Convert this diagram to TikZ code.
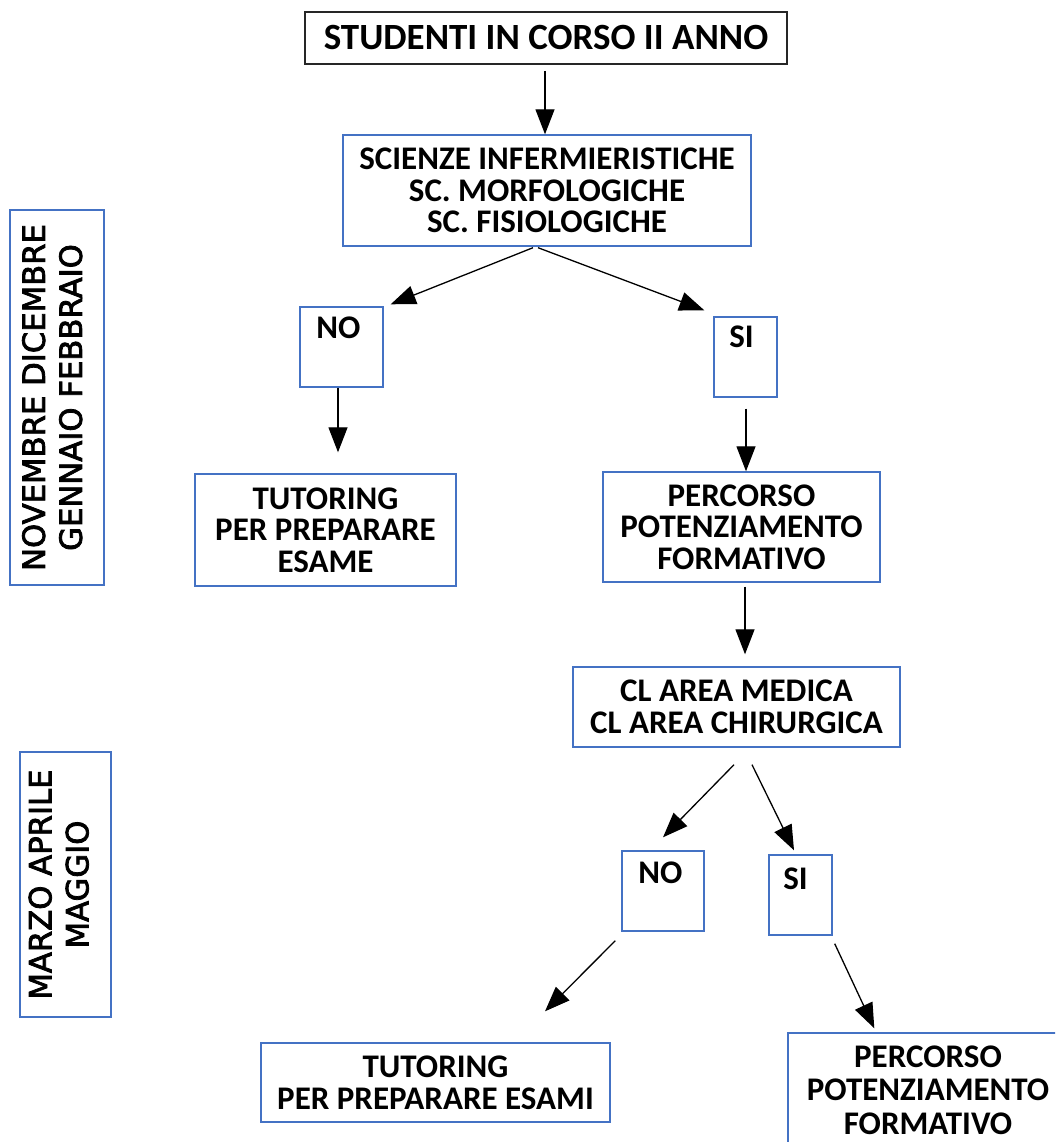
\documentclass[tikz,border=0pt]{standalone}
\usepackage{fontspec}
\setmainfont{Carlito}
\newfontfamily\sidefont[FakeBold=2.5]{DejaVu Sans}
\usetikzlibrary{arrows.meta,calc}
\definecolor{boxblue}{RGB}{68,114,196}
\begin{document}
\begin{tikzpicture}[x=1pt,y=-1pt,
  txt/.style={font=\bfseries\fontsize{33}{31.7}\selectfont},
  bluebox/.style={draw=boxblue, line width=1.4pt, fill=white, inner sep=0pt, align=center, txt},
  topbox/.style={draw=black!85, line width=1.6pt, fill=white, inner sep=0pt, align=center, font=\bfseries\fontsize{37}{36}\selectfont},
  lbl/.style={inner sep=0pt, txt},
  sidebox/.style={draw=boxblue, line width=1.4pt, fill=white, inner sep=0pt, align=center, font=\sidefont\fontsize{30.7}{37}\selectfont},
  arr/.style={draw=black, line width=1.3pt, -{Triangle[length=25pt,width=19pt]}}
]
\useasboundingbox (0,0) rectangle (1055,1142);
\clip (0,0) rectangle (1055,1142);
\fill[white] (0,0) rectangle (1055,1142);

% main flow boxes
\node[topbox, minimum width=482, minimum height=52] (top) at (546,38) {STUDENTI IN CORSO II ANNO};
\node[bluebox, minimum width=408, minimum height=111] (sci) at (547,190.5) {SCIENZE INFERMIERISTICHE\\SC. MORFOLOGICHE\\SC. FISIOLOGICHE};
\node[bluebox, minimum width=83, minimum height=80, label={[lbl, xshift=-3pt, yshift=19.5pt]center:NO}] (no1) at (341.5,347) {};
\node[bluebox, minimum width=63, minimum height=80, label={[lbl, xshift=-4pt, yshift=20pt]center:SI}] (si1) at (745.5,357) {};
\node[bluebox, minimum width=261, minimum height=112] (tut1) at (325.5,530) {TUTORING\\PER PREPARARE\\ESAME};
\node[bluebox, minimum width=277, minimum height=110] (perc1) at (741.5,527) {PERCORSO\\POTENZIAMENTO\\FORMATIVO};
\node[bluebox, minimum width=327, minimum height=80] (cl) at (736.5,707) {CL AREA MEDICA\\CL AREA CHIRURGICA};
\node[bluebox, minimum width=82, minimum height=80, label={[lbl, xshift=-2.5pt, yshift=18pt]center:NO}] (no2) at (663,891) {};
\node[bluebox, minimum width=63, minimum height=80, label={[lbl, xshift=-5pt, yshift=16.5pt]center:SI}] (si2) at (800.5,895) {};
\node[bluebox, minimum width=349, minimum height=79] (tut2) at (435.5,1082.5) {TUTORING\\PER PREPARARE ESAMI};
\node[bluebox, minimum width=280, minimum height=114, font=\bfseries\fontsize{33}{33.5}\selectfont] (perc2) at (928,1090) {PERCORSO\\POTENZIAMENTO\\FORMATIVO};

% period labels
\node[sidebox, rotate=90, minimum width=375, minimum height=94, text depth=10pt] (lab1) at (57,397.5) {NOVEMBRE DICEMBRE\\GENNAIO FEBBRAIO};
\node[sidebox, rotate=90, minimum width=265, minimum height=91, text depth=14pt] (lab2) at (65.5,884.5) {MARZO APRILE\\MAGGIO};

% connectors
\draw[arr] ($(top.south)+(-1,6)$) -- ($(sci.north)+(-2,0)$);
\draw[arr] ($(sci.south)+(-14,1)$) -- ($(no1.north east)+(7,-2)$);
\draw[arr] ($(sci.south)+(-9,1)$) -- ($(si1.north west)+(-9,-6)$);
\draw[arr] ($(no1.south)+(-3.5,0)$) -- ($(tut1.north)+(12.5,-21)$);
\draw[arr] ($(si1.south)+(0.5,11)$) -- ($(perc1.north)+(4.5,0)$);
\draw[arr] ($(perc1.south)+(3.5,4)$) -- ($(cl.north)+(8.5,-12)$);
\draw[arr] ($(cl.south)+(-2.5,17)$) -- ($(no2.north)+(0,-13)$);
\draw[arr] ($(cl.south)+(15.5,17)$) -- ($(si2.north)+(-6.5,-4)$);
\draw[arr] ($(no2.south west)+(-6,9)$) -- ($(tut2.north)+(109.5,-31)$);
\draw[arr] ($(si2.south east)+(2,8)$) -- ($(perc2.north west)+(87,-4)$);
\end{tikzpicture}
\end{document}
